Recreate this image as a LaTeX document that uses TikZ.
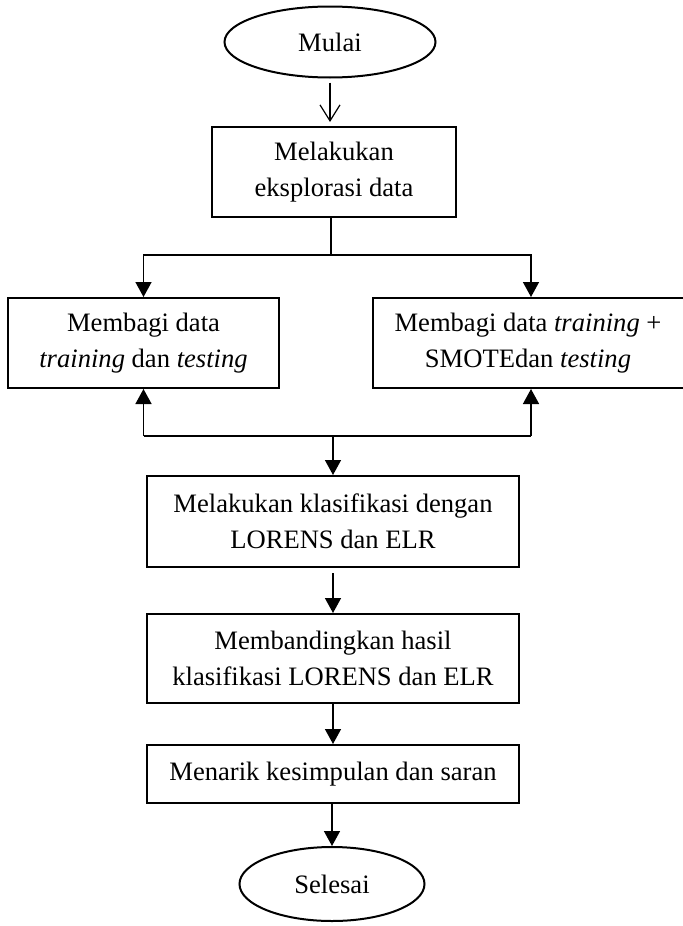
\documentclass[tikz,border=0pt]{standalone}
\usepackage{fontspec}
\setmainfont{Liberation Serif}
\usetikzlibrary{shapes.geometric, arrows.meta}
\tikzset{
  box/.style={draw, line width=1pt, align=center, inner sep=2pt, minimum height=45pt},
  oval/.style={draw, ellipse, line width=1pt, inner sep=0pt},
  arr/.style={line width=0.75pt, -{Triangle[width=8pt,length=7.5pt]}},
  openarr/.style={line width=0.6pt, -{Straight Barb[width=10pt,length=8pt]}}
}
\begin{document}
\begin{tikzpicture}[x=0.5pt, y=-0.5pt, font=\fontsize{13.3}{18}\selectfont]
\useasboundingbox (0,0) rectangle (683,926);
\node[oval, minimum width=105.5pt, minimum height=35.5pt] (mulai) at (330,42) {Mulai};
\node[box, minimum width=122pt] (explore) at (334,172) {Melakukan\\eksplorasi data};
\node[box, minimum width=135.5pt] (split) at (143.5,343) {Membagi data\\\textit{training} dan \textit{testing}};
\node[box, minimum width=155.5pt] (smote) at (528,343) {Membagi data \textit{training} +\\SMOTEdan \textit{testing}};
\node[box, minimum width=186pt, minimum height=45.5pt] (classify) at (333,521.5) {Melakukan klasifikasi dengan\\LORENS dan ELR};
\node[box, minimum width=186pt, minimum height=44.5pt] (compare) at (333,658.5) {Membandingkan hasil\\klasifikasi LORENS dan ELR};
\node[box, minimum width=186pt, minimum height=29pt] (conclude) at (333,774) {Menarik kesimpulan dan saran};
\node[oval, minimum width=92.5pt, minimum height=37pt] (selesai) at (332,884) {Selesai};

\draw[openarr, shorten <=2pt, shorten >=2pt] (mulai.south) -- (mulai.south |- explore.north);
\coordinate (fork) at (331,255);
\draw[line width=0.75pt] (explore.south -| fork) -- (fork);
\draw[arr] (fork) -| (split.north);
\draw[arr] (fork) -| ([xshift=1.5pt]smote.north);
\coordinate (join) at (333,436);
\draw[line width=0.75pt] (split.south |- join) -- ([xshift=1.5pt]smote.south |- join);
\draw[arr] (split.south |- join) -- (split.south);
\draw[arr] ([xshift=1.5pt]smote.south |- join) -- ([xshift=1.5pt]smote.south);
\draw[arr] (join) -- (classify.north);
\draw[arr, shorten <=2.5pt] (classify) -- (compare);
\draw[arr] (compare) -- (conclude);
\draw[arr] (conclude.south -| selesai.north) -- (selesai.north);
\end{tikzpicture}
\end{document}
